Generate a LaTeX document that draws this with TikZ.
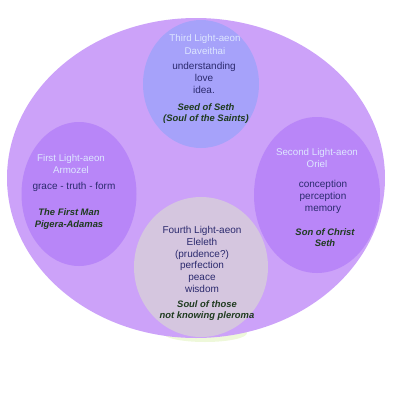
\documentclass[tikz,border=0pt]{standalone}
\usepackage{fontspec}
\setmainfont{Liberation Sans}
\usepackage{tikz}
\usetikzlibrary{positioning, shapes.geometric}
\definecolor{pleroma}{HTML}{CCA2F9}
\definecolor{aeonthree}{HTML}{A6A2FA}
\definecolor{aeonone}{HTML}{B886F8}
\definecolor{aeontwo}{HTML}{B986F8}
\definecolor{aeonfour}{HTML}{D5C6DF}
\definecolor{glow}{HTML}{EEF8DA}
\definecolor{pale}{HTML}{DDE6FF}
\definecolor{navy}{HTML}{2B2A6E}
\definecolor{leaf}{HTML}{1F3B1F}
\tikzset{
  aeon/.style  = {ellipse, inner sep=0pt},
  title/.style = {align=center, text=pale, inner sep=0pt,
                  font=\fontsize{9.75}{12.5}\selectfont},
  virtue/.style= {align=center, text=navy, inner sep=0pt,
                  font=\fontsize{10}{12}\selectfont},
  seed/.style  = {align=center, text=leaf, inner sep=0pt,
                  font=\fontsize{9.4}{11.7}\selectfont\bfseries\itshape},
}
\begin{document}
\begin{tikzpicture}[x=1pt, y=-1pt]
  \useasboundingbox (0,0) rectangle (400,400);

  % the pleroma and its four light-aeons
  \node[aeon, fill=glow, minimum width=84pt, minimum height=18pt] (glowspot) at (205,333) {};
  \node[aeon, fill=pleroma, minimum width=378pt, minimum height=320pt] (pleroma) at (196,178) {};
  \node[aeon, fill=aeonthree, minimum width=116pt, minimum height=128pt] (third) at (201,84) {};
  \node[aeon, fill=aeonone, minimum width=115pt, minimum height=144pt] (first) at (79,194) {};
  \node[aeon, fill=aeontwo, minimum width=126pt, minimum height=156pt] (second) at (317,195) {};
  \node[aeon, fill=aeonfour, minimum width=134pt, minimum height=140pt] (fourth) at (201,267) {};

  % third
  \node[title] (t3) at (205,44.5) {Third Light-aeon\\Daveithai};
  \node[virtue] (v3) at (204,78) {understanding\\love\\idea.};
  \node[seed] (s3) at (206,113.5) {Seed of Seth\\(Soul of the Saints)};

  % first
  \node[title] (t1) at (71,164) {First Light-aeon\\Armozel};
  \node[virtue] (v1) at (74,187) {grace - truth - form};
  \node[seed] (s1) at (69,219) {The First Man\\Pigera-Adamas};

  % second
  \node[title] (t2) at (317,158) {Second Light-aeon\\Oriel};
  \node[virtue] (v2) at (323,197) {conception\\perception\\memory};
  \node[seed] (s2) at (325,237.5) {Son of Christ\\Seth};

  % fourth
  \node[virtue, font=\fontsize{10}{11.8}\selectfont] (v4) at (202,259.5)
       {Fourth Light-aeon\\Eleleth\\(prudence?)\\perfection\\peace\\wisdom};
  \node[seed] (s4) at (207,310.5) {Soul of those\\not knowing pleroma};

\end{tikzpicture}
\end{document}
